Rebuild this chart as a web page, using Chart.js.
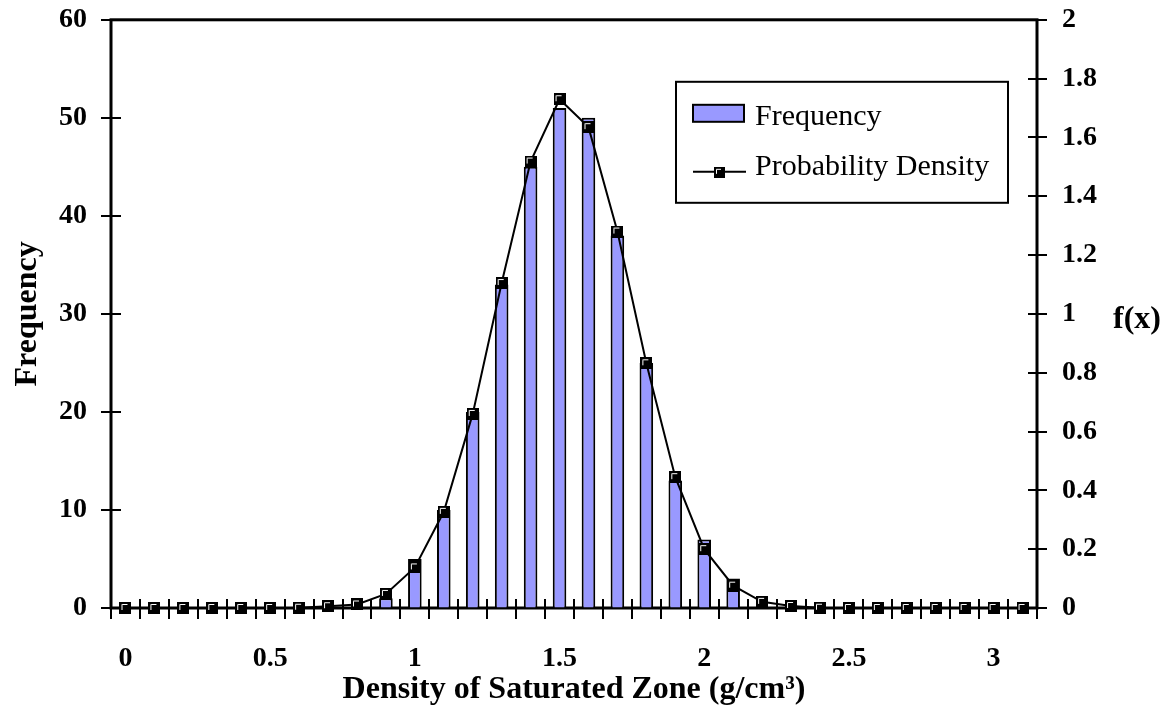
<!DOCTYPE html>
<html>
<head>
<meta charset="utf-8">
<script src="https://cdn.jsdelivr.net/npm/chart.js@4.4.1/dist/chart.umd.min.js"></script>
<style>
  html, body { margin: 0; padding: 0; background: #ffffff; }
  #wrap { position: relative; width: 1169px; height: 717px; }
</style>
</head>
<body>
<div id="wrap"><canvas id="chart" width="1169" height="717"></canvas></div>
<script>
// Bin centres of the density histogram (g/cm3)
const categories = ['0','0.1','0.2','0.3','0.4','0.5','0.6','0.7','0.8','0.9',
                    '1','1.1','1.2','1.3','1.4','1.5','1.6','1.7','1.8','1.9',
                    '2','2.1','2.2','2.3','2.4','2.5','2.6','2.7','2.8','2.9',
                    '3','3.1'];

// Counts per bin
const frequency = [0,0,0,0,0,0,0,0,0,1,
                   5,10,20,33,45,51,50,38,25,13,
                   7,3,0,0,0,0,0,0,0,0,
                   0,0];

// Fitted probability density f(x) at each bin centre
const density = [0,0,0,0,0,0,0.001,0.006,0.012,0.048,
                 0.138,0.327,0.66,1.105,1.518,1.73,1.635,1.28,0.832,0.445,
                 0.2,0.076,0.021,0.007,0.001,0,0,0,0,0,
                 0,0];

// Labelled ticks on the horizontal axis
const xTickLabels = ['0','0.5','1','1.5','2','2.5','3'];

const SERIF = "'Liberation Serif', 'Times New Roman', Times, serif";
const BAR_FILL = '#9999ff';

// Square marker: black body with a thin white bevel on the upper-left
function makeMarker(size) {
  const c = document.createElement('canvas');
  c.width = size; c.height = size;
  const g = c.getContext('2d');
  g.fillStyle = '#000';
  g.fillRect(0, 0, size, size);
  g.strokeStyle = '#fff';
  g.lineWidth = 1;
  g.beginPath();
  g.moveTo(2.5, size - 4);
  g.lineTo(2.5, 2.5);
  g.lineTo(size - 4, 2.5);
  g.stroke();
  return c;
}
const marker = makeMarker(12);
const legendMarker = makeMarker(11);

// Invisible tick gap that keeps the labels clear of the axis
const hiddenGrid = len => ({
  display: true, drawOnChartArea: false, drawTicks: true,
  tickLength: len, color: 'rgba(0,0,0,0)'
});

// Plot frame and tick marks that cross the axis lines
const framePlugin = {
  id: 'frame',
  beforeDatasetsDraw(chart) {
    const { ctx, chartArea: a, scales } = chart;
    ctx.save();
    ctx.strokeStyle = '#000';
    ctx.lineWidth = 2;
    ctx.beginPath();
    scales.y.ticks.forEach(t => {
      const y = Math.round(scales.y.getPixelForValue(t.value));
      ctx.moveTo(a.left - 10, y); ctx.lineTo(a.left + 10, y);
    });
    scales.y1.ticks.forEach(t => {
      const y = Math.round(scales.y1.getPixelForValue(t.value));
      ctx.moveTo(a.right - 9, y); ctx.lineTo(a.right + 10, y);
    });
    const xs = scales.x;
    const step = xs.getPixelForValue(1) - xs.getPixelForValue(0);
    for (let i = 0; i <= categories.length; i++) {
      const x = Math.round(xs.getPixelForValue(i) - step / 2);
      ctx.moveTo(x, a.bottom - 9); ctx.lineTo(x, a.bottom + 11);
    }
    ctx.stroke();
    ctx.lineWidth = 3;
    ctx.strokeRect(a.left, a.top, a.right - a.left, a.bottom - a.top);
    ctx.restore();
  },
  afterDraw(chart) {
    const { ctx, chartArea: a, scales } = chart;
    ctx.save();
    // right-hand axis title, written upright
    ctx.fillStyle = '#000';
    ctx.font = 'bold 32px ' + SERIF;
    ctx.textAlign = 'center';
    ctx.textBaseline = 'middle';
    ctx.fillText('f(x)', scales.y1.right - 32, (a.top + a.bottom) / 2 + 6);

    // legend box
    const lx = a.right - 361, ly = a.top + 62, lw = 332, lh = 121;
    ctx.fillStyle = '#fff';
    ctx.fillRect(lx, ly, lw, lh);
    ctx.lineWidth = 2;
    ctx.strokeStyle = '#000';
    ctx.strokeRect(lx, ly, lw, lh);

    const ds = chart.data.datasets;
    ctx.font = '30px ' + SERIF;
    ctx.textAlign = 'left';
    ctx.textBaseline = 'alphabetic';

    // bar entry
    ctx.fillStyle = BAR_FILL;
    ctx.fillRect(lx + 17, ly + 23, 51, 17);
    ctx.strokeRect(lx + 17, ly + 23, 51, 17);
    ctx.fillStyle = '#000';
    ctx.fillText(ds[0].label, lx + 79, ly + 43);

    // line entry
    ctx.beginPath();
    ctx.moveTo(lx + 17, ly + 90); ctx.lineTo(lx + 70, ly + 90);
    ctx.stroke();
    ctx.drawImage(legendMarker, lx + 38, ly + 85);
    ctx.fillText(ds[1].label, lx + 79, ly + 93);
    ctx.restore();
  }
};

new Chart(document.getElementById('chart'), {
  data: {
    labels: categories,
    datasets: [
      {
        type: 'bar',
        label: 'Frequency',
        data: frequency,
        yAxisID: 'y',
        backgroundColor: BAR_FILL,
        borderColor: '#000',
        borderWidth: ctx => (ctx.raw === 0 ? 0 : 2),
        borderSkipped: 'start',
        categoryPercentage: 1.0,
        barPercentage: 0.47,
        order: 2
      },
      {
        type: 'line',
        label: 'Probability Density',
        data: density,
        yAxisID: 'y1',
        borderColor: '#000',
        borderWidth: 2,
        tension: 0,
        pointStyle: marker,
        pointRadius: 6,
        clip: false,
        order: 1
      }
    ]
  },
  options: {
    responsive: false,
    animation: false,
    layout: { padding: { top: 0, left: 0, right: 0, bottom: 0 } },
    plugins: {
      legend: { display: false },
      tooltip: { enabled: false }
    },
    scales: {
      x: {
        type: 'category',
        offset: true,
        grid: { display: false, drawTicks: false },
        border: { display: false },
        ticks: {
          color: '#000',
          font: { family: SERIF, size: 28, weight: 'bold' },
          padding: 34,
          autoSkip: false,
          maxRotation: 0,
          callback(value) {
            const lbl = categories[value];
            return xTickLabels.includes(lbl) ? lbl : '';
          }
        },
        title: {
          display: true,
          text: 'Density of Saturated Zone (g/cm³)',
          color: '#000',
          font: { family: SERIF, size: 32, weight: 'bold', lineHeight: 1 },
          padding: { top: 0, bottom: 11 }
        },
        afterFit(scale) { scale.height = 109; }
      },
      y: {
        position: 'left',
        min: 0, max: 60,
        grid: hiddenGrid(21),
        border: { display: false },
        ticks: {
          stepSize: 10,
          color: '#000',
          font: { family: SERIF, size: 28, weight: 'bold' },
          padding: 3
        },
        title: {
          display: true,
          text: 'Frequency',
          color: '#000',
          font: { family: SERIF, size: 32, weight: 'bold', lineHeight: 1 },
          padding: { top: 12, bottom: 0 }
        },
        afterFit(scale) { scale.width = 111; }
      },
      y1: {
        position: 'right',
        min: 0, max: 2,
        grid: hiddenGrid(22),
        border: { display: false },
        ticks: {
          stepSize: 0.2,
          color: '#000',
          font: { family: SERIF, size: 28, weight: 'bold' },
          padding: 3,
          callback(value) { return String(Number(value.toFixed(1))); }
        },
        afterFit(scale) { scale.width = 132; }
      }
    }
  },
  plugins: [framePlugin]
});
</script>
</body>
</html>
